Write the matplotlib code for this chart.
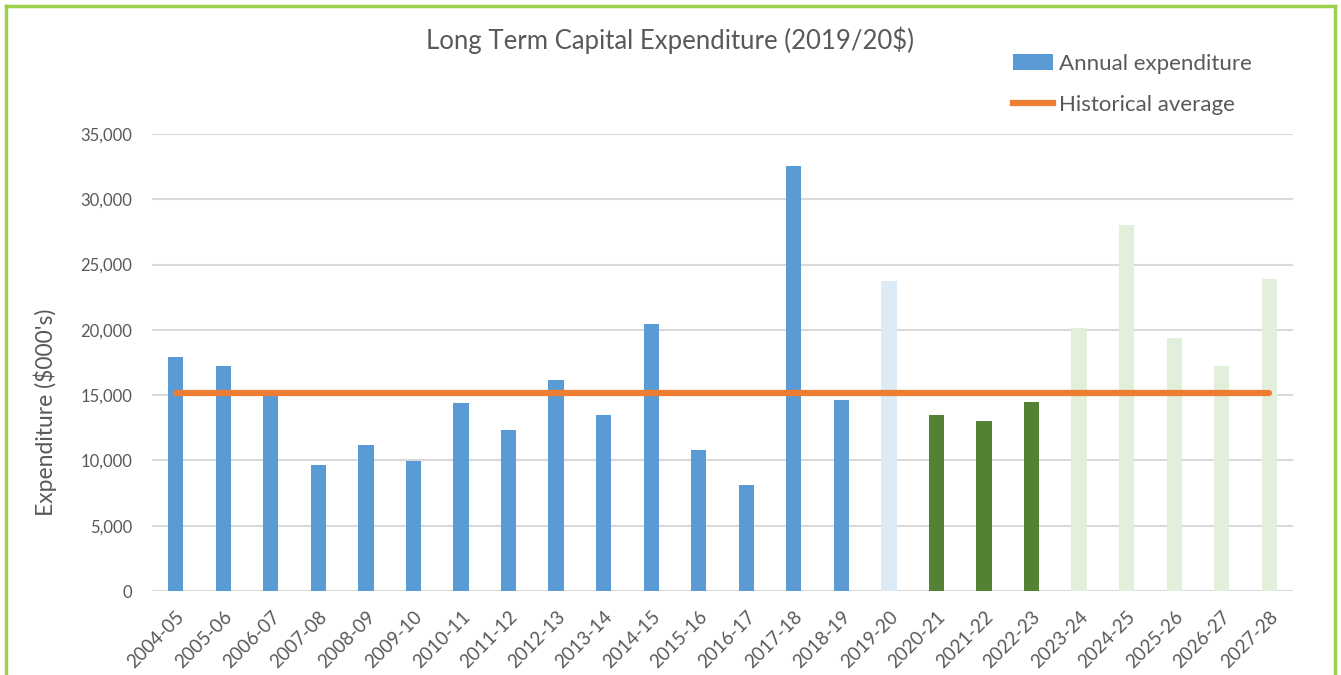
import matplotlib
matplotlib.use("Agg")
import matplotlib.pyplot as plt
from matplotlib.patches import Patch
from matplotlib.lines import Line2D
from matplotlib.ticker import FuncFormatter

categories = ["2004-05", "2005-06", "2006-07", "2007-08", "2008-09", "2009-10",
              "2010-11", "2011-12", "2012-13", "2013-14", "2014-15", "2015-16",
              "2016-17", "2017-18", "2018-19", "2019-20", "2020-21", "2021-22",
              "2022-23", "2023-24", "2024-25", "2025-26", "2026-27", "2027-28"]
expenditure = [17900, 17250, 14900, 9650, 11180, 9950, 14370, 12330, 16160, 13450,
               20420, 10800, 8120, 32560, 14600, 23740, 13450, 12990, 14500, 20140,
               28020, 19350, 17250, 23890]
# bar group: historical, current year, committed, forecast
bar_group = ["hist"] * 15 + ["current"] + ["committed"] * 3 + ["forecast"] * 5
historical_average = 15150

group_colors = {"hist": "#5B9BD5", "current": "#DDEBF7",
                "committed": "#548235", "forecast": "#E2EFDA"}

plt.rcParams["font.family"] = ["Lato", "DejaVu Sans"]
text_color = "#595959"

fig = plt.figure(figsize=(13.41, 6.75), dpi=100)
ax = fig.add_axes([152 / 1341, 1 - 591 / 675, (1293 - 152) / 1341, (591 - 134) / 675])

x = list(range(len(categories)))
ax.bar(x, expenditure, width=0.32, color=[group_colors[g] for g in bar_group], zorder=2)
ax.plot([x[0], x[-1]], [historical_average] * 2, color="#ED7D31", linewidth=4.5,
        solid_capstyle="round", zorder=3)

ax.set_xlim(-0.5, len(categories) - 0.5)
ax.set_ylim(0, 35000)
ax.set_yticks(range(0, 35001, 5000))
ax.yaxis.set_major_formatter(FuncFormatter(lambda v, p: f"{int(v):,}"))
ax.set_xticks(x)
ax.set_xticklabels(categories, rotation=45, ha="right", rotation_mode="anchor",
                   fontsize=13.5, color=text_color)
ax.tick_params(axis="y", labelsize=12, colors=text_color, length=0, pad=14)
ax.tick_params(axis="x", length=0, pad=12)
ax.grid(axis="y", color="#D9D9D9", linewidth=1.5, zorder=0)
for s in ax.spines.values():
    s.set_visible(False)

ax.set_ylabel("Expenditure ($000's)", fontsize=16.5, color=text_color)
ax.yaxis.set_label_coords((57 - 152) / (1293 - 152), (591 - 412) / (591 - 134))

fig.text(670 / 1341, 1 - 40 / 675, "Long Term Capital Expenditure (2019/20$)",
         ha="center", va="center", fontsize=18.5, color=text_color)

handles = [Patch(facecolor="#5B9BD5", edgecolor="none"),
           Line2D([0], [0], color="#ED7D31", linewidth=4.5)]
fig.legend(handles, ["Annual expenditure", "Historical average"],
           loc="upper left", bbox_to_anchor=(993 / 1341, 1 - 34 / 675),
           frameon=False, fontsize=16, labelcolor=text_color,
           handlelength=1.8, handletextpad=0.25, labelspacing=0.95)

# green border around the chart
border = "#9BD14A"
fig.add_artist(Line2D([6 / 1341, 6 / 1341], [0, 1 - 6 / 675], color=border, lw=2.5,
                      transform=fig.transFigure))
fig.add_artist(Line2D([6 / 1341, 1335 / 1341], [1 - 6 / 675, 1 - 6 / 675], color=border,
                      lw=2.5, transform=fig.transFigure))
fig.add_artist(Line2D([1335 / 1341, 1335 / 1341], [0, 1 - 6 / 675], color=border, lw=2.5,
                      transform=fig.transFigure))

fig.savefig("out.png", dpi=100)
